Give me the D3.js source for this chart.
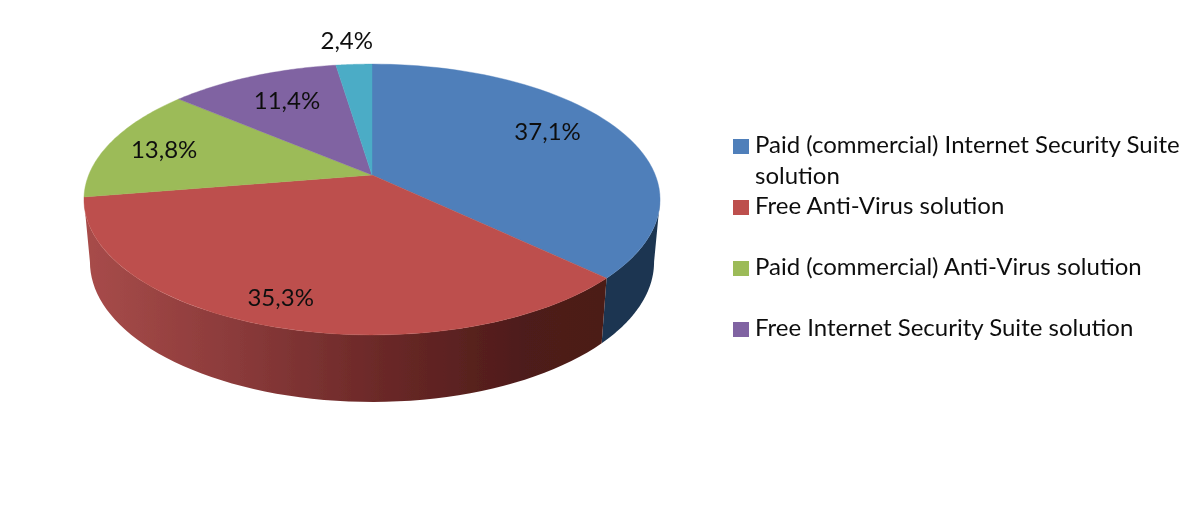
<!DOCTYPE html>
<html><head><meta charset="utf-8">
<script src="https://cdnjs.cloudflare.com/ajax/libs/d3/7.8.5/d3.min.js"></script>
<style>html,body{margin:0;padding:0;background:#fff}svg{display:block}</style>
</head><body>
<svg id="chart" width="1200" height="506"></svg>
<script>
const values = [37.1, 35.3, 13.8, 11.4, 2.4];
const valueLabels = ["37,1%", "35,3%", "13,8%", "11,4%", "2,4%"];
const legendLines = [
  ["Paid (commercial) Internet Security Suite", "solution"],
  ["Free Anti-Virus solution"],
  ["Paid (commercial) Anti-Virus solution"],
  ["Free Internet Security Suite solution"]
];
const topColors = ["#4f7fba", "#bd504d", "#9cbb58", "#8064a2", "#4bacc6"];
const labelNudge = [[2,-9],[-25,23],[-23,-1],[2,-2],[-12,-53]];
const legendBaselines = [[153,184],[214],[275],[336]];

const svg = d3.select("#chart");
const FONT = "Lato, Carlito, sans-serif";

// Perspective projection of the pie disc
const cx = 372, c = -0.181;
const topRim = (a, r = 1) => {
  const u = r * Math.sin(a), v = -r * Math.cos(a), d = 1 + c * v;
  return [cx + 283.3 * u / d, 175 + 131 * v / d];
};
// Lower rim: ellipse of the base, matched point by point to the top rim's ellipse
const lowRim = a => {
  const p = topRim(a);
  return [cx + 282 * (p[0] - cx) / 288, 262 + 140 * (p[1] - 199.5) / 135.5];
};

const arcs = d3.pie().sort(null)(values);
const line = d3.line();
const sample = (a0, a1) => d3.range(0, 61).map(i => a0 + (a1 - a0) * i / 60);

const defs = svg.append("defs");
const grad = defs.append("linearGradient").attr("id", "redSide")
  .attr("gradientUnits", "userSpaceOnUse")
  .attr("x1", 84).attr("x2", 600).attr("y1", 0).attr("y2", 0);
[[0, "#a84c4a"], [0.3, "#8a3a3a"], [0.6, "#682726"], [0.85, "#4e1c1a"], [1, "#4c1b18"]]
  .forEach(([o, col]) => grad.append("stop").attr("offset", o).attr("stop-color", col));
const sideFill = ["#1d3651", "url(#redSide)"];
defs.append("filter").attr("id", "soft").append("feGaussianBlur").attr("stdDeviation", 0.4);

const root = svg.append("g").attr("filter", "url(#soft)");

// Side walls, from the disc's right-most to its left-most visible point
const wallStart = Math.acos(c), wallEnd = 2 * Math.PI - wallStart;
arcs.slice(0, 2).forEach((s, i) => {
  const as = sample(Math.max(s.startAngle, wallStart), Math.min(s.endAngle, wallEnd));
  root.append("path")
    .attr("d", line(as.map(a => topRim(a)).concat(as.slice().reverse().map(lowRim))) + "Z")
    .attr("fill", sideFill[i]);
});

// Top face
root.append("g").selectAll("path").data(arcs).join("path")
  .attr("d", s => line([[cx, 175]].concat(sample(s.startAngle, s.endAngle).map(a => topRim(a)))) + "Z")
  .attr("fill", (s, i) => topColors[i])
  .attr("stroke", (s, i) => topColors[i]).attr("stroke-width", 0.4);

// Value labels
root.append("g").selectAll("text").data(arcs).join("text")
  .attr("x", (s, i) => topRim((s.startAngle + s.endAngle) / 2, 0.7)[0] + labelNudge[i][0])
  .attr("y", (s, i) => topRim((s.startAngle + s.endAngle) / 2, 0.7)[1] + labelNudge[i][1] + 8)
  .attr("text-anchor", "middle")
  .attr("font-family", FONT).attr("font-size", 24).attr("fill", "#111")
  .text((s, i) => valueLabels[i]);

// Legend
const legend = root.append("g").selectAll("g").data(legendLines).join("g");
legend.append("rect")
  .attr("x", 733).attr("width", 16).attr("height", 15)
  .attr("y", (d, i) => legendBaselines[i][0] - 14)
  .attr("fill", (d, i) => topColors[i]);
legend.selectAll("text").data((d, i) => d.map((t, j) => ({ t, y: legendBaselines[i][j] })))
  .join("text")
  .attr("x", 755).attr("y", d => d.y)
  .attr("font-family", FONT).attr("font-size", 24).attr("fill", "#111")
  .text(d => d.t);
</script>
</body></html>
